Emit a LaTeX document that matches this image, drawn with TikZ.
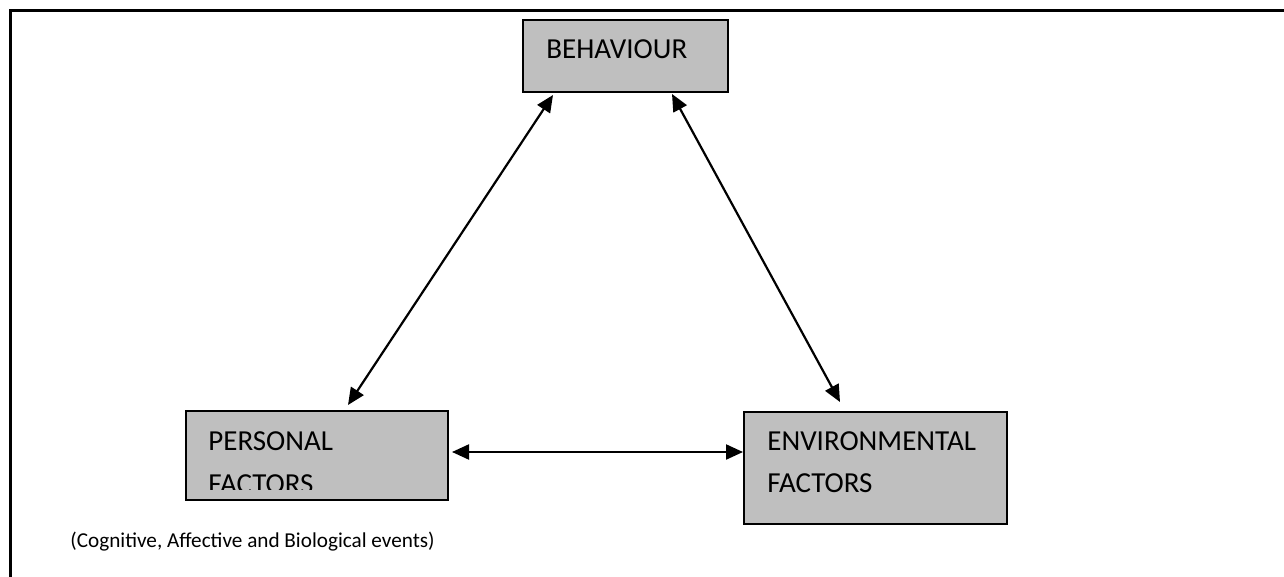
\documentclass[tikz,border=0pt]{standalone}
\usepackage{fontspec}
\setmainfont{Carlito}
\usepackage{tikz}
\usetikzlibrary{arrows.meta,positioning,calc}

\begin{document}
\begin{tikzpicture}[
    x=0.5pt, y=-0.5pt,
    factor/.style={draw, line width=0.75pt, fill=black!25, inner sep=0pt, outer sep=0pt, anchor=north west},
    boxtext/.style={font=\fontsize{14.5}{17}\selectfont, inner sep=0pt, anchor=base west},
    note/.style={font=\fontsize{10.6}{12}\selectfont, inner sep=0pt, anchor=base west},
    link/.style={{Triangle[length=8.5pt,width=7.5pt]}-{Triangle[length=8.5pt,width=7.5pt]}, line width=1.1pt}
]
    \useasboundingbox (0,0) rectangle (1284,577);

    % Frame
    \draw[line width=1.5pt] (1284,11) -- (10,11) -- (10,577);

    % Boxes
    \node[factor, minimum width=102.5pt, minimum height=36pt] (behaviour) at (523,20) {};
    \node[factor, minimum width=131pt, minimum height=44.5pt] (personal) at (186,411) {};
    \node[factor, minimum width=131.5pt, minimum height=56pt] (environment) at (744,412) {};

    % Box texts
    \node[boxtext] (behtext) at (546,59) {BEHAVIOUR};
    \node[boxtext] (pertext) at (208,450) {PERSONAL};
    \begin{scope}
        \clip (186,411) rectangle (448,489);
        \node[boxtext] (perfactors) at (208,493) {FACTORS};
    \end{scope}
    \node[boxtext] (envtext) at (767,450) {ENVIRONMENTAL};
    \node[boxtext] (envfactors) at (767,492) {FACTORS};

    % Note
    \node[note] (events) at (70,547) {(Cognitive, Affective and Biological events)};

    % Links
    \draw[link] ([xshift=15pt, yshift=-1.5pt]behaviour.south west) -- ([xshift=81pt, yshift=3pt]personal.north west);
    \draw[link] ([xshift=-28pt, yshift=-1pt]behaviour.south east) -- ([xshift=48pt, yshift=5pt]environment.north west);
    \draw[link] ([xshift=2pt, yshift=-20.5pt]personal.north east) -- ([xshift=-0.5pt, yshift=-20pt]environment.north west);
\end{tikzpicture}
\end{document}
